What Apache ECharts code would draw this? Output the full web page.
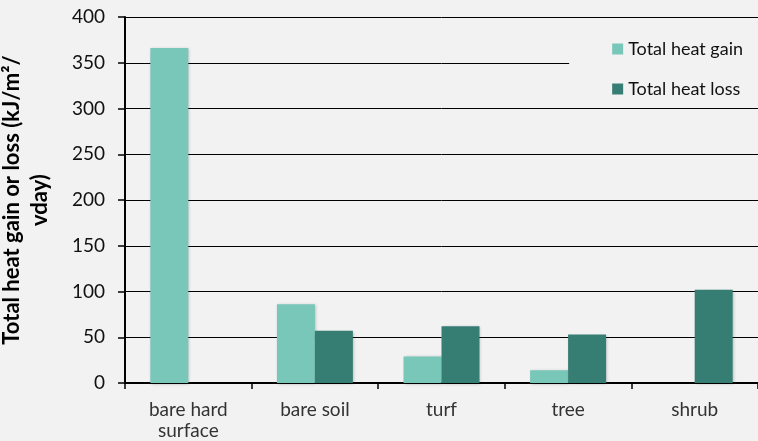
<!DOCTYPE html>
<html>
<head>
<meta charset="utf-8">
<script src="https://cdn.jsdelivr.net/npm/echarts@6/dist/echarts.min.js"></script>
<style>
  html, body { margin: 0; padding: 0; background: #f2f2f2; }
  #chart { width: 758px; height: 441px; }
</style>
</head>
<body>
<div id="chart"></div>
<script>
// data
const categories = ['bare hard\nsurface', 'bare soil', 'turf', 'tree', 'shrub'];
const heatGain = [366, 86, 29, 14, null];
const heatLoss = [null, 57, 62, 53, 102];
const seriesNames = ['Total heat gain', 'Total heat loss'];

const font = 'Lato, "Open Sans", sans-serif';
const barShadow = {
  shadowColor: 'rgba(0,0,0,0.25)',
  shadowBlur: 3,
  shadowOffsetX: 1,
  shadowOffsetY: 1,
};

const chart = echarts.init(document.getElementById('chart'));
chart.setOption({
  backgroundColor: '#f2f2f2',
  animation: false,
  textStyle: { fontFamily: font },
  grid: { left: 125, right: 0, top: 17, bottom: 58, containLabel: false, outerBoundsMode: 'none' },
  legend: {
    orient: 'vertical',
    right: 0,
    top: 34,
    padding: [6, 15, 6, 43],
    backgroundColor: '#f2f2f2',
    itemWidth: 11,
    itemHeight: 11,
    itemGap: 22,
    icon: 'rect',
    textStyle: { fontSize: 18, color: '#111', fontFamily: font },
    data: seriesNames,
  },
  xAxis: {
    type: 'category',
    data: categories,
    axisLine: { lineStyle: { color: '#000', width: 2 } },
    axisTick: { show: true, length: 6, lineStyle: { color: '#000', width: 1.5 } },
    axisLabel: { fontSize: 19, color: '#333', margin: 16, lineHeight: 21 },
  },
  yAxis: {
    type: 'value',
    min: 0,
    max: 400,
    interval: 50,
    name: 'Total heat gain or loss (kJ/m²/\nvday)',
    nameLocation: 'middle',
    nameGap: 71,
    nameTextStyle: { fontSize: 22, fontWeight: 'bold', color: '#000', lineHeight: 28, fontFamily: font },
    axisLine: { show: true, lineStyle: { color: '#000', width: 2 } },
    axisTick: { show: true, length: 7, lineStyle: { color: '#000', width: 1.5 } },
    axisLabel: { fontSize: 19, color: '#111', margin: 20 },
    splitLine: { lineStyle: { color: '#000', width: 1 } },
  },
  series: [
    {
      name: seriesNames[0],
      type: 'bar',
      data: heatGain,
      barWidth: '30%',
      barGap: '0%',
      itemStyle: Object.assign({ color: '#79c7b8' }, barShadow),
    },
    {
      name: seriesNames[1],
      type: 'bar',
      data: heatLoss,
      barWidth: '30%',
      itemStyle: Object.assign({ color: '#367e74' }, barShadow),
    },
  ],
});
</script>
</body>
</html>
